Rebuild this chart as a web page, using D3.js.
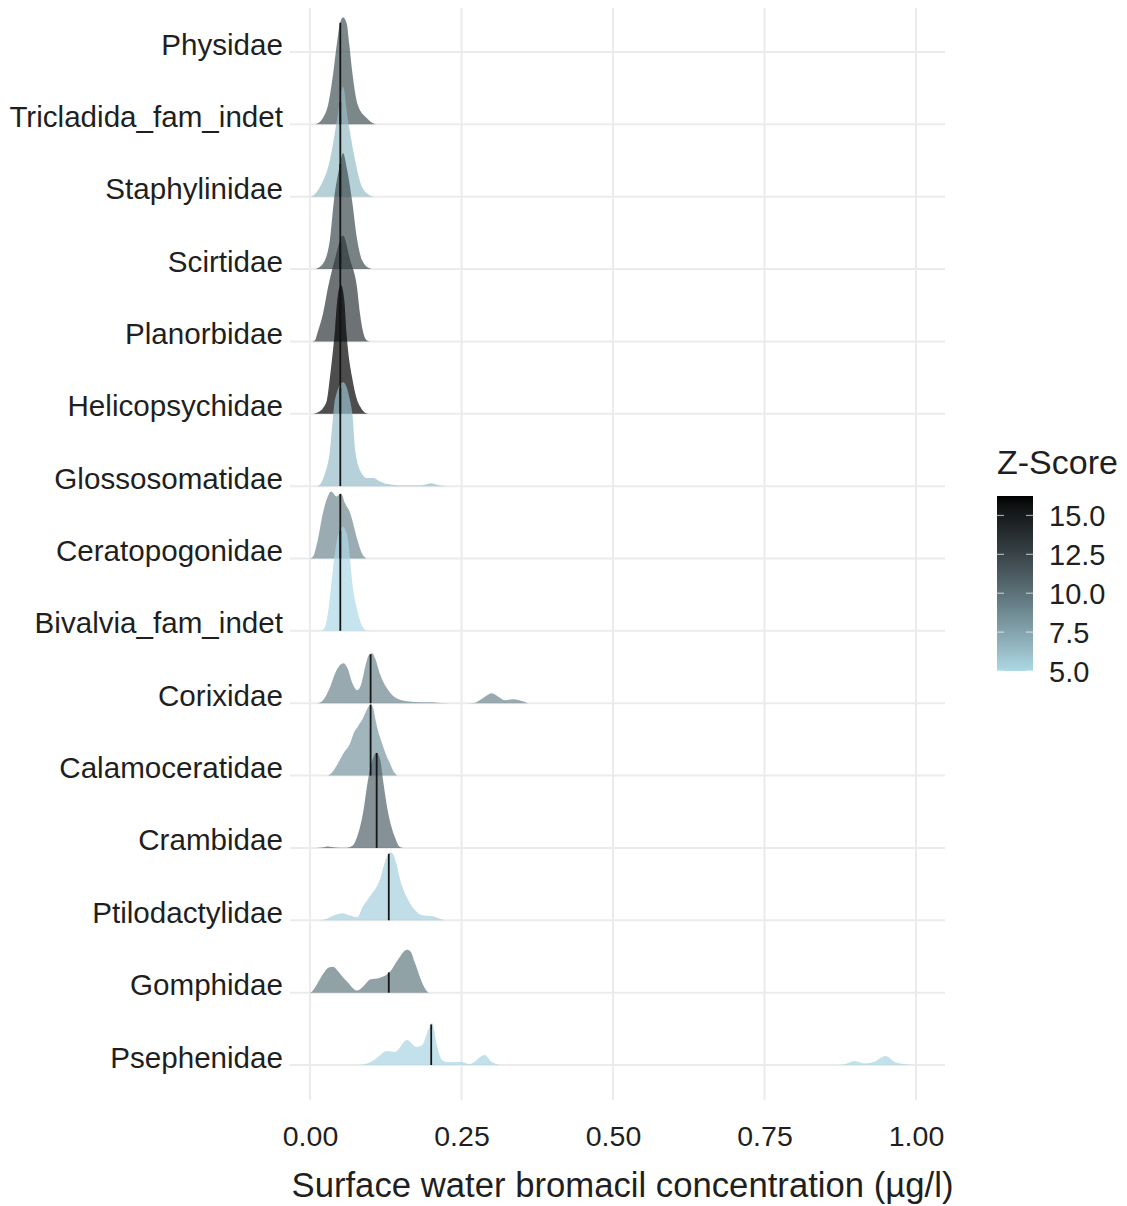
<!DOCTYPE html>
<html><head><meta charset="utf-8">
<script src="https://cdn.jsdelivr.net/npm/d3@7"></script>
<style>
body{margin:0;background:#fff;}
text{font-family:"Liberation Sans",Arial,Helvetica,sans-serif;}
</style>
</head><body>
<svg id="chart" width="1127" height="1206"></svg>
<script>
// ---------------- DATA ----------------
const families = ["Physidae","Tricladida_fam_indet","Staphylinidae","Scirtidae","Planorbidae",
  "Helicopsychidae","Glossosomatidae","Ceratopogonidae","Bivalvia_fam_indet","Corixidae",
  "Calamoceratidae","Crambidae","Ptilodactylidae","Gomphidae","Psephenidae"];
const xTicks = [0, 0.25, 0.5, 0.75, 1.0];
const zTicks = [5.0, 7.5, 10.0, 12.5, 15.0];
const zDomain = [5.0, 16.25];

// ridges as they sit in the picture: baseline row, z-score, change-point line, density curve
const ridgeRows = ["Tricladida_fam_indet","Staphylinidae","Scirtidae","Planorbidae","Helicopsychidae",
  "Glossosomatidae","Ceratopogonidae","Bivalvia_fam_indet","Corixidae","Calamoceratidae",
  "Crambidae","Ptilodactylidae","Gomphidae","Psephenidae"];
const ridgeZ = [11.6, 6.3, 12.0, 13.2, 16.2, 6.2, 8.8, 5.0, 9.0, 8.2, 10.8, 5.4, 9.6, 5.2];
const ridgeLine = [0.05, 0.05, 0.05, 0.05, 0.05, 0.05, 0.05, 0.05, 0.10, 0.10, 0.11, 0.13, 0.13, 0.20];

const curveTricladida = [[0.008,0],[0.013,0.014],[0.021,0.083],[0.0297,0.263],[0.0385,0.719],[0.044,1.092],[0.0495,1.396],[0.0545,1.479],[0.0605,1.396],[0.065,1.092],[0.0698,0.719],[0.079,0.263],[0.094,0.083],[0.104,0.014],[0.11,0]];
const curveStaphylinidae = [[0.0,0],[0.005,0.014],[0.0165,0.138],[0.033,0.511],[0.0446,1.064],[0.0545,1.52],[0.0627,1.064],[0.0743,0.511],[0.0858,0.138],[0.1,0.014],[0.107,0]];
const curveScirtidae = [[0.008,0],[0.0132,0.014],[0.0248,0.124],[0.033,0.415],[0.0396,0.954],[0.0479,1.382],[0.0545,1.603],[0.061,1.382],[0.0693,0.954],[0.0776,0.415],[0.0858,0.124],[0.0974,0.014],[0.103,0]];
const curvePlanorbidae = [[0.003,0],[0.008,0.014],[0.013,0.138],[0.0215,0.387],[0.0297,0.746],[0.041,1.133],[0.0545,1.465],[0.066,1.133],[0.0776,0.746],[0.0825,0.387],[0.0875,0.138],[0.094,0.014],[0.1,0]];
const curveHelicopsychidae = [[0.006,0],[0.0116,0.014],[0.022,0.083],[0.028,0.193],[0.033,0.511],[0.038,0.884],[0.0415,1.189],[0.0446,1.534],[0.051,1.783],[0.057,1.534],[0.0595,1.189],[0.0627,0.884],[0.0693,0.511],[0.0776,0.193],[0.084,0.083],[0.0908,0.014],[0.097,0]];
const curveGlossosomatidae = [[0.012,0],[0.018,0.041],[0.025,0.18],[0.033,0.498],[0.038,0.954],[0.041,1.189],[0.0545,1.437],[0.066,1.189],[0.0705,0.954],[0.0745,0.498],[0.085,0.18],[0.094,0.111],[0.104,0.111],[0.115,0.069],[0.128,0.028],[0.15,0.01],[0.185,0.014],[0.2,0.041],[0.212,0.014],[0.225,0]];
const curveCeratopogonidae = [[0.0,0],[0.005,0.028],[0.013,0.263],[0.0215,0.636],[0.028,0.829],[0.035,0.926],[0.044,0.857],[0.051,0.898],[0.058,0.76],[0.066,0.636],[0.078,0.263],[0.085,0.083],[0.093,0]];
const curveBivalvia = [[0.018,0],[0.024,0.041],[0.0297,0.249],[0.036,0.705],[0.04,1.009],[0.047,1.34],[0.054,1.437],[0.061,1.34],[0.066,1.009],[0.0693,0.705],[0.079,0.249],[0.088,0.041],[0.095,0]];
const curveCorixidae = [[0.012,0],[0.02,0.028],[0.033,0.221],[0.043,0.442],[0.055,0.553],[0.062,0.484],[0.07,0.276],[0.078,0.18],[0.085,0.276],[0.091,0.498],[0.097,0.663],[0.1025,0.691],[0.108,0.608],[0.115,0.415],[0.126,0.221],[0.14,0.083],[0.16,0.028],[0.185,0.014],[0.2,0.014],[0.215,0.004],[0.25,0],[0.27,0.004],[0.285,0.069],[0.3,0.138],[0.312,0.083],[0.322,0.041],[0.335,0.055],[0.345,0.041],[0.36,0]];
const curveCalamoceratidae = [[0.028,0],[0.033,0.014],[0.046,0.166],[0.055,0.304],[0.066,0.442],[0.0726,0.594],[0.08,0.691],[0.088,0.802],[0.094,0.912],[0.1,0.981],[0.104,0.94],[0.108,0.774],[0.113,0.594],[0.119,0.442],[0.126,0.276],[0.132,0.166],[0.138,0.055],[0.144,0]];
const curveCrambidae = [[0.01,0],[0.02,0.007],[0.03,0.021],[0.042,0.007],[0.06,0.004],[0.066,0.014],[0.0726,0.055],[0.0776,0.152],[0.0875,0.484],[0.0957,0.94],[0.104,1.244],[0.11,1.313],[0.116,1.216],[0.1205,0.94],[0.129,0.484],[0.14,0.152],[0.1485,0.014],[0.155,0]];
const curvePtilodactylidae = [[0.015,0],[0.025,0.014],[0.04,0.069],[0.053,0.097],[0.065,0.069],[0.0776,0.041],[0.0875,0.193],[0.099,0.332],[0.1155,0.567],[0.123,0.788],[0.129,0.912],[0.133,0.94],[0.138,0.898],[0.144,0.732],[0.1485,0.567],[0.156,0.387],[0.165,0.235],[0.175,0.124],[0.186,0.069],[0.203,0.055],[0.212,0.028],[0.222,0]];
const curveGomphidae = [[0.0,0],[0.003,0.014],[0.013,0.138],[0.022,0.263],[0.03,0.345],[0.038,0.359],[0.047,0.29],[0.055,0.207],[0.063,0.138],[0.07,0.069],[0.0776,0.028],[0.0875,0.083],[0.099,0.18],[0.1155,0.207],[0.132,0.29],[0.145,0.456],[0.16,0.594],[0.166,0.567],[0.173,0.415],[0.185,0.138],[0.191,0.041],[0.196,0]];
const curvePsephenidae = [[0.08,0],[0.0875,0.007],[0.1,0.041],[0.11,0.097],[0.127,0.193],[0.14,0.18],[0.16,0.345],[0.176,0.249],[0.185,0.276],[0.195,0.484],[0.2013,0.58],[0.21,0.249],[0.218,0.069],[0.226,0.041],[0.248,0.041],[0.264,0.014],[0.288,0.138],[0.3,0.041],[0.31,0.007],[0.32,0],[0.87,0],[0.88,0.007],[0.899,0.055],[0.915,0.021],[0.93,0.041],[0.95,0.124],[0.965,0.041],[0.98,0.014],[0.99,0.004],[1.0,0]];

const ridgeCurves = [curveTricladida, curveStaphylinidae, curveScirtidae, curvePlanorbidae, curveHelicopsychidae,
  curveGlossosomatidae, curveCeratopogonidae, curveBivalvia, curveCorixidae, curveCalamoceratidae,
  curveCrambidae, curvePtilodactylidae, curveGomphidae, curvePsephenidae];

// ---------------- CHART ----------------
const svg = d3.select("#chart");
const panel = {left: 290, right: 945, top: 8, bottom: 1100};
const x = d3.scaleLinear().domain([0, 1]).range([310, 916]);
const y = d3.scalePoint().domain(families).range([52, 1065]);
const rowStep = y.step();
const h = d3.scaleLinear().domain([0, 1]).range([0, rowStep]);
const color = d3.scaleLinear().domain(zDomain).range(["#add8e6", "#000000"]).interpolate(d3.interpolateLab);
const gridColor = "#ebebeb";
const textColor = "#1f1f1f";

// grid
svg.append("g").selectAll("line.v").data(xTicks).join("line")
  .attr("x1", d => x(d)).attr("x2", d => x(d))
  .attr("y1", panel.top).attr("y2", panel.bottom)
  .attr("stroke", gridColor).attr("stroke-width", 2);
svg.append("g").selectAll("line.h").data(families).join("line")
  .attr("x1", panel.left).attr("x2", panel.right)
  .attr("y1", d => y(d)).attr("y2", d => y(d))
  .attr("stroke", gridColor).attr("stroke-width", 2);

// ridges
const area = d3.area()
  .curve(d3.curveMonotoneX)
  .x(d => x(d[0]));

const ridges = ridgeRows.map((r, i) => ({row: r, z: ridgeZ[i], line: ridgeLine[i], curve: ridgeCurves[i]}));

const gR = svg.append("g");
ridges.forEach(r => {
  const base = y(r.row);
  gR.append("path")
    .datum(r.curve)
    .attr("d", area.y0(base).y1(d => base - h(d[1])))
    .attr("fill", color(r.z))
    .attr("fill-opacity", 0.7)
    .attr("stroke", "none");
});

function densityAt(curve, v) {
  for (let k = 0; k < curve.length - 1; k++) {
    const a = curve[k], b = curve[k + 1];
    if (v >= a[0] && v <= b[0]) return a[1] + (b[1] - a[1]) * (v - a[0]) / (b[0] - a[0]);
  }
  return 0;
}

const gL = svg.append("g");
ridges.forEach(r => {
  const base = y(r.row);
  gL.append("line")
    .attr("x1", x(r.line)).attr("x2", x(r.line))
    .attr("y1", base).attr("y2", base - h(densityAt(r.curve, r.line)))
    .attr("stroke", "#151515").attr("stroke-width", 1.8);
});

// y axis labels
const yAxis = d3.axisLeft(y).tickSize(0).tickPadding(0);
const gy = svg.append("g").attr("transform", `translate(283,0)`).call(yAxis);
gy.select(".domain").remove();
gy.selectAll("text")
  .attr("font-size", 29.6).attr("fill", textColor)
  .attr("font-family", "'Liberation Sans', Arial, sans-serif")
  .attr("dy", null).attr("y", 2).attr("text-anchor", "end");

// x axis
const xAxis = d3.axisBottom(x).tickValues(xTicks).tickFormat(d3.format(".2f")).tickSize(0).tickPadding(0);
const gx = svg.append("g").attr("transform", `translate(0,1146)`).call(xAxis);
gx.select(".domain").remove();
gx.selectAll("text")
  .attr("font-size", 28.5).attr("fill", textColor)
  .attr("font-family", "'Liberation Sans', Arial, sans-serif")
  .attr("dy", null).attr("y", 0);

svg.append("text")
  .attr("x", (panel.left + panel.right) / 2 + 5).attr("y", 1197)
  .attr("text-anchor", "middle").attr("font-size", 34.7).attr("fill", textColor)
  .text("Surface water bromacil concentration (µg/l)");

// legend
const lg = svg.append("g");
const defs = svg.append("defs");
const grad = defs.append("linearGradient").attr("id", "zgrad")
  .attr("x1", 0).attr("y1", 1).attr("x2", 0).attr("y2", 0);
d3.range(0, 1.0001, 0.05).forEach(t => {
  grad.append("stop").attr("offset", t)
    .attr("stop-color", color(zDomain[0] + t * (zDomain[1] - zDomain[0])));
});
const zY = d3.scaleLinear().domain(zDomain).range([671, 496]);
const barX = 997, barW = 36;
lg.append("rect").attr("x", barX).attr("y", zY(zDomain[1]))
  .attr("width", barW).attr("height", zY(zDomain[0]) - zY(zDomain[1]))
  .attr("fill", "url(#zgrad)");
lg.selectAll("line.tl").data(zTicks).join("line")
  .attr("x1", barX).attr("x2", barX + 7)
  .attr("y1", d => zY(d)).attr("y2", d => zY(d))
  .attr("stroke", "#ffffff").attr("stroke-opacity", 0.6).attr("stroke-width", 1.2);
lg.selectAll("line.tr").data(zTicks).join("line")
  .attr("x1", barX + barW - 7).attr("x2", barX + barW)
  .attr("y1", d => zY(d)).attr("y2", d => zY(d))
  .attr("stroke", "#ffffff").attr("stroke-opacity", 0.6).attr("stroke-width", 1.2);
lg.selectAll("text.zl").data(zTicks).join("text")
  .attr("x", 1049).attr("y", d => zY(d) + 10.5)
  .attr("font-size", 29).attr("fill", textColor)
  .text(d => d3.format(".1f")(d));
lg.append("text").attr("x", 997).attr("y", 474)
  .attr("font-size", 34).attr("fill", textColor).text("Z-Score");
</script>
</body></html>
